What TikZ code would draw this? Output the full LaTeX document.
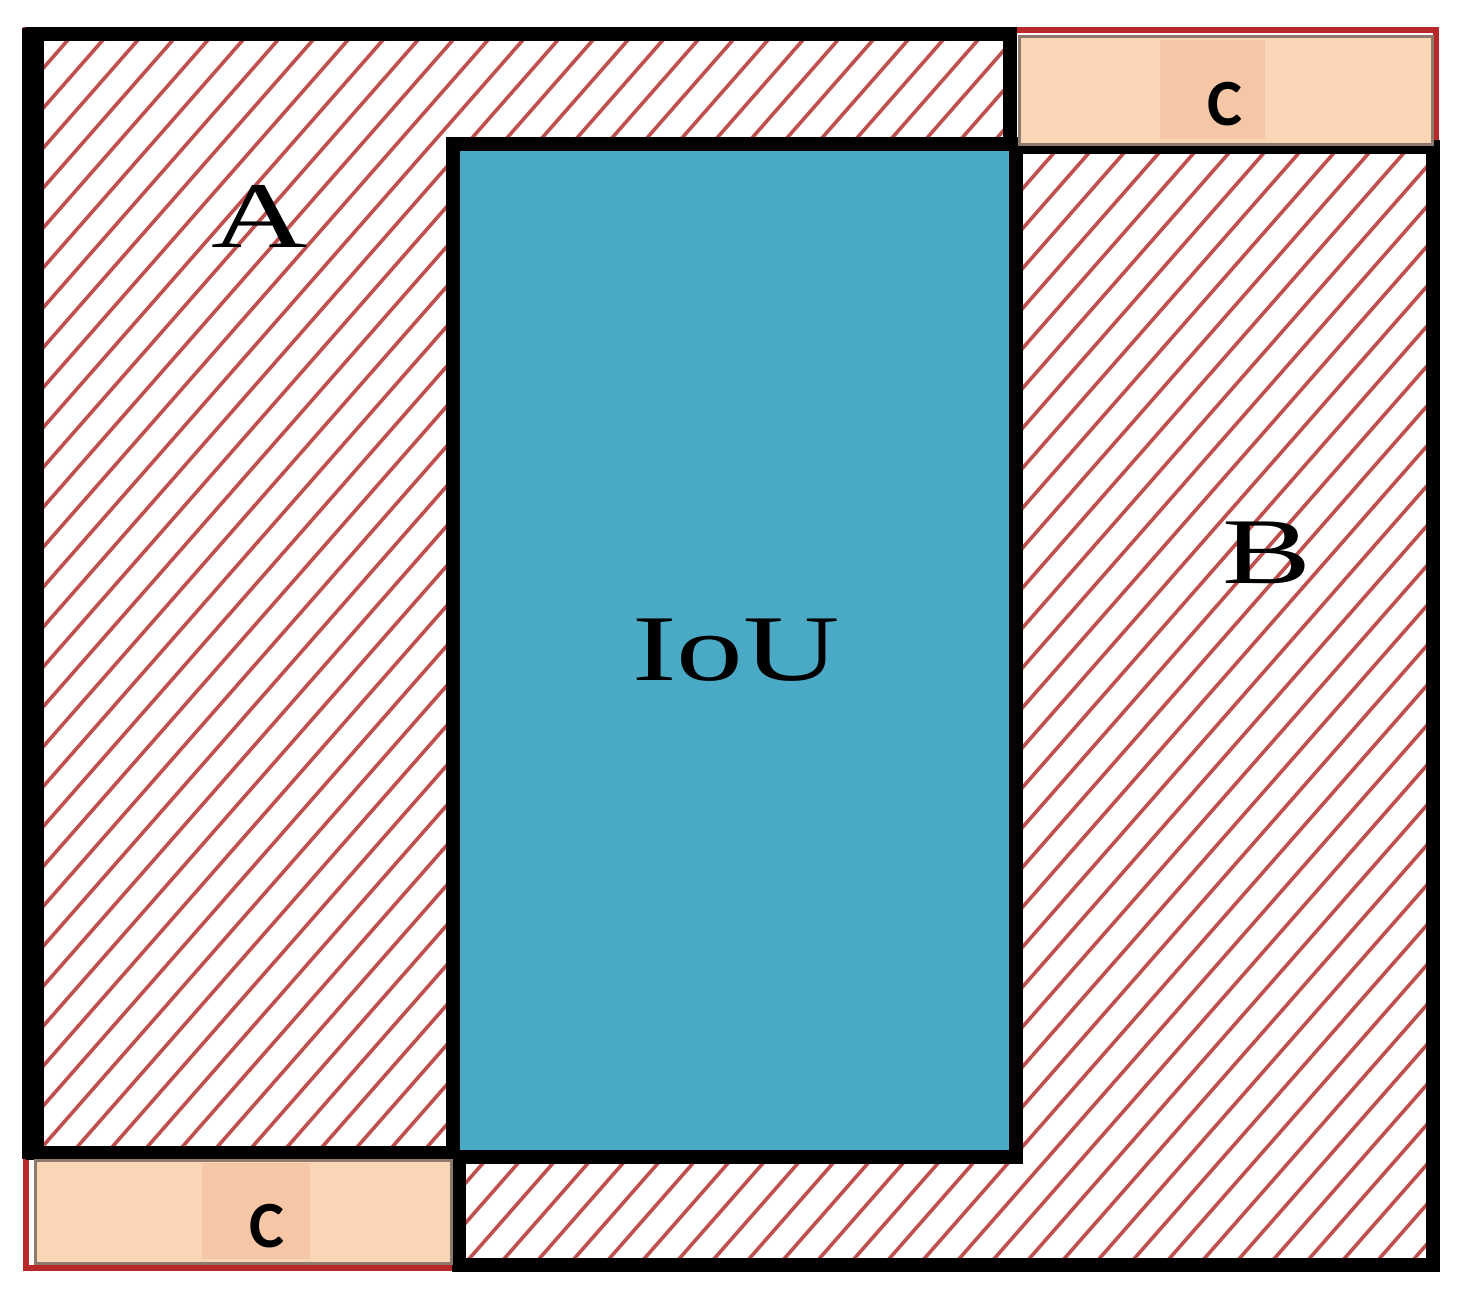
\documentclass[tikz,border=0pt]{standalone}
\usepackage{fontspec}
\setmainfont{Liberation Serif}
\newfontfamily\cfont{Carlito}
\definecolor{hatchred}{HTML}{C0504D}
\definecolor{ioublue}{HTML}{4AAAC5}
\definecolor{peach}{HTML}{FBD6B6}
\definecolor{peachdark}{HTML}{F6C7A7}
\definecolor{cedge}{HTML}{8E7A6C}
\definecolor{outred}{HTML}{B82828}
\tikzset{
  hatchline/.style={draw=hatchred, line width=3.6},
  framebox/.style={draw=black, line width=14},
  cbox/.style={fill=peach, draw=cedge, line width=3},
  cstripe/.style={fill=peachdark, draw=none},
  serlabel/.style={inner sep=0, anchor=base, text=black, font=\fontsize{94}{94}\selectfont},
  clabel/.style={inner sep=0, anchor=base, text=black, font=\cfont\bfseries\fontsize{66}{66}\selectfont}
}
\begin{document}
\begin{tikzpicture}[x=1pt, y=-1pt]
\useasboundingbox[fill=white] (0,0) rectangle (1470,1299);
% hatching of A and B
\begin{scope}
  \clip (33,34) rectangle (1010,1153) (459,147) rectangle (1433,1265);
  \foreach \k in {0,...,76}
    \draw[hatchline] ({33+35*\k},0) -- ({33+35*\k-1140},1300);
\end{scope}
% red enclosing box C
\draw[draw=outred, line width=6] (26,30) rectangle (1436,1268);
% frames of A and B
\draw[framebox] (33,34) rectangle (1010,1153);
\draw[draw=black, line width=22] (33,28) -- (33,1159);
\draw[framebox] (459,147) rectangle (1433,1265);
% intersection
\fill[ioublue] (453,144) rectangle (1016,1157);
\draw[framebox] (453,144) rectangle (1016,1157);
% C boxes
\draw[cbox] (1019.5,36) rectangle (1432,144);
\fill[cstripe] (1160,40) rectangle (1265,139);
\draw[cbox] (35,1160) rectangle (451,1263);
\fill[cstripe] (202,1163) rectangle (310,1259);
% labels
\node[serlabel] (labA) at (260,247) {\scalebox{1.42}[1]{A}};
\node[serlabel] (labB) at (1267,583) {\scalebox{1.42}[1]{B}};
\node[serlabel] (labIoU) at (736,680) {\scalebox{1.42}[1]{IoU}};
\node[clabel] (labC1) at (1225,125) {C};
\node[clabel] (labC2) at (267,1247) {C};
\end{tikzpicture}
\end{document}
